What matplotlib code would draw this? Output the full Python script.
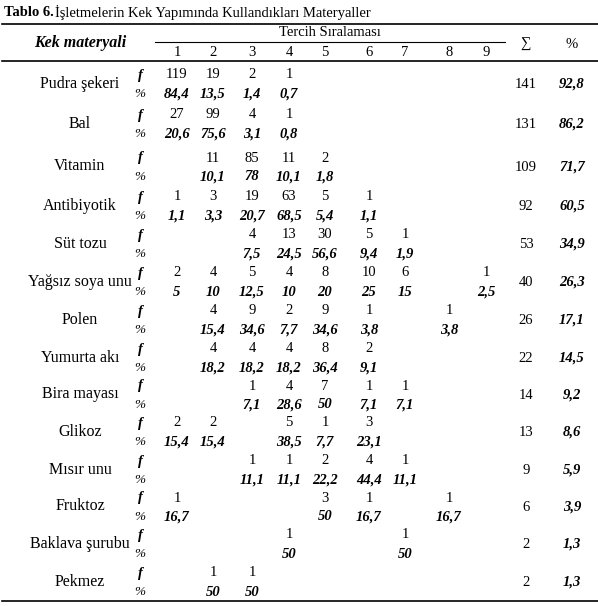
import matplotlib.pyplot as plt

plt.rcParams["font.family"] = ["Liberation Serif", "DejaVu Serif"]

materials = ["Pudra şekeri", "Bal", "Vitamin", "Antibiyotik", "Süt tozu",
             "Yağsız soya unu", "Polen", "Yumurta akı", "Bira mayası", "Glikoz",
             "Mısır unu", "Fruktoz", "Baklava şurubu", "Pekmez"]
# frekanslar: sıra -> değer
freq = [
    {1: "119", 2: "19", 3: "2", 4: "1"},
    {1: "27", 2: "99", 3: "4", 4: "1"},
    {2: "11", 3: "85", 4: "11", 5: "2"},
    {1: "1", 2: "3", 3: "19", 4: "63", 5: "5", 6: "1"},
    {3: "4", 4: "13", 5: "30", 6: "5", 7: "1"},
    {1: "2", 2: "4", 3: "5", 4: "4", 5: "8", 6: "10", 7: "6", 9: "1"},
    {2: "4", 3: "9", 4: "2", 5: "9", 6: "1", 8: "1"},
    {2: "4", 3: "4", 4: "4", 5: "8", 6: "2"},
    {3: "1", 4: "4", 5: "7", 6: "1", 7: "1"},
    {1: "2", 2: "2", 4: "5", 5: "1", 6: "3"},
    {3: "1", 4: "1", 5: "2", 6: "4", 7: "1"},
    {1: "1", 5: "3", 6: "1", 8: "1"},
    {4: "1", 7: "1"},
    {2: "1", 3: "1"},
]
perc = [
    {1: "84,4", 2: "13,5", 3: "1,4", 4: "0,7"},
    {1: "20,6", 2: "75,6", 3: "3,1", 4: "0,8"},
    {2: "10,1", 3: "78", 4: "10,1", 5: "1,8"},
    {1: "1,1", 2: "3,3", 3: "20,7", 4: "68,5", 5: "5,4", 6: "1,1"},
    {3: "7,5", 4: "24,5", 5: "56,6", 6: "9,4", 7: "1,9"},
    {1: "5", 2: "10", 3: "12,5", 4: "10", 5: "20", 6: "25", 7: "15", 9: "2,5"},
    {2: "15,4", 3: "34,6", 4: "7,7", 5: "34,6", 6: "3,8", 8: "3,8"},
    {2: "18,2", 3: "18,2", 4: "18,2", 5: "36,4", 6: "9,1"},
    {3: "7,1", 4: "28,6", 5: "50", 6: "7,1", 7: "7,1"},
    {1: "15,4", 2: "15,4", 4: "38,5", 5: "7,7", 6: "23,1"},
    {3: "11,1", 4: "11,1", 5: "22,2", 6: "44,4", 7: "11,1"},
    {1: "16,7", 5: "50", 6: "16,7", 8: "16,7"},
    {4: "50", 7: "50"},
    {2: "50", 3: "50"},
]
totals = ["141", "131", "109", "92", "53", "40", "26", "22", "14", "13", "9", "6", "2", "2"]
total_pct = ["92,8", "86,2", "71,7", "60,5", "34,9", "26,3", "17,1", "14,5", "9,2",
             "8,6", "5,9", "3,9", "1,3", "1,3"]
ranks = list(range(1, 10))

W, H = 598, 606
fig = plt.figure(figsize=(W / 100, H / 100), dpi=100)
ax = fig.add_axes([0, 0, 1, 1])
ax.set_xlim(0, W)
ax.set_ylim(H, 0)
ax.axis("off")

col_x = [177, 213, 252, 289, 325, 369, 405, 449, 486]
fs = 11.5   # etiketler
fn = 10.5   # sayılar

ax.text(4, 12, "Tablo 6.", fontsize=10.5, fontweight="bold", va="center")
ax.text(55, 12, "İşletmelerin Kek Yapımında Kullandıkları Materyaller", fontsize=10.5, va="center")
ax.plot([2, 598], [24, 24], color="black", lw=1.2)
ax.plot([155, 505], [42, 42], color="black", lw=0.8)
ax.plot([2, 598], [61, 61], color="black", lw=1.2)
ax.plot([2, 598], [601, 601], color="black", lw=1.2)

ax.text(80, 43, "Kek materyali", fontsize=fs, fontweight="bold", style="italic", ha="center", va="center")
ax.text(330, 33, "Tercih Sıralaması", fontsize=fn, ha="center", va="center")
for r, x in zip(ranks, col_x):
    ax.text(x, 52, str(r), fontsize=fn, ha="center", va="center")
ax.text(526, 44, "∑", fontsize=fn, ha="center", va="center")
ax.text(572, 44, "%", fontsize=fn, ha="center", va="center")

y_f = [75, 115, 158, 197, 235, 273, 311, 349, 386, 423, 461, 498, 535, 573]
for i, name in enumerate(materials):
    yf = y_f[i]
    yp = yf + 19
    ym = (yf + yp) / 2
    ax.text(80, ym - 1, name, fontsize=fs, ha="center", va="center")
    ax.text(140, yf, "f", fontsize=fn, style="italic", fontweight="bold", ha="center", va="center")
    ax.text(140, yp, "%", fontsize=fn - 1, style="italic", ha="center", va="center")
    for r, v in freq[i].items():
        ax.text(col_x[r - 1], yf, v, fontsize=fn, ha="center", va="center")
    for r, v in perc[i].items():
        ax.text(col_x[r - 1], yp, v, fontsize=fn, style="italic", fontweight="bold",
                ha="center", va="center")
    ax.text(526, ym, totals[i], fontsize=fn, ha="center", va="center")
    ax.text(572, ym, total_pct[i], fontsize=fn, style="italic", fontweight="bold",
            ha="center", va="center")

fig.savefig("out.png", dpi=100)
